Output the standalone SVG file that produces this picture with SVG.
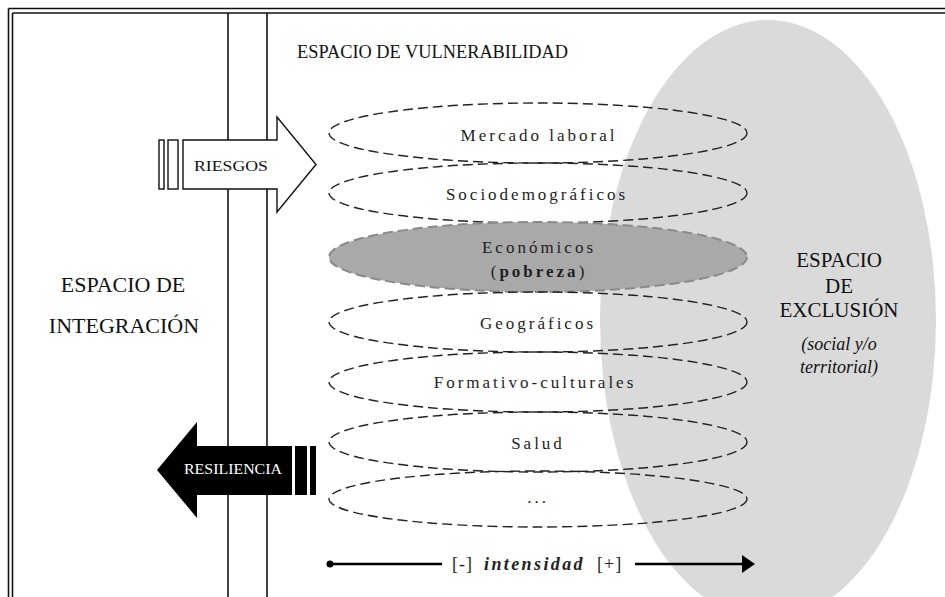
<svg xmlns="http://www.w3.org/2000/svg" width="945" height="597" viewBox="0 0 945 597">
<style>
  .frame{fill:none;stroke:#111;stroke-width:1.6}
  .dim{fill:none;stroke:#222;stroke-width:1.4;stroke-dasharray:10 5}
  .lbl{font-family:"Liberation Serif","Times New Roman",serif;font-size:17px;letter-spacing:3px;fill:#1e1e1e;text-anchor:middle}
  .big{font-family:"Liberation Serif","Times New Roman",serif;fill:#111;text-anchor:middle}
  .serif{font-family:"Liberation Serif","Times New Roman",serif}
</style>
<rect x="0" y="0" width="945" height="597" fill="#fff"/>
<g id="frame">
  <line x1="8.5" y1="8.5" x2="945" y2="8.5" class="frame"/>
  <line x1="8.5" y1="8.5" x2="8.5" y2="597" class="frame"/>
  <line x1="12.5" y1="13" x2="945" y2="13" class="frame"/>
</g>
<g id="integracion">
  <line x1="12.5" y1="13" x2="12.5" y2="597" class="frame"/>
  <line x1="228" y1="13" x2="228" y2="597" class="frame"/>
  <text class="big" font-size="22" x="123" y="292">ESPACIO DE</text>
  <text class="big" font-size="22" x="124" y="333">INTEGRACIÓN</text>
</g>
<g id="vulnerabilidad">
  <line x1="267" y1="13" x2="267" y2="597" class="frame"/>
  <text class="serif" font-size="18.5" fill="#111" x="297" y="58" textLength="271" lengthAdjust="spacingAndGlyphs">ESPACIO DE VULNERABILIDAD</text>
</g>
<g id="exclusion">
  <ellipse cx="768" cy="320" rx="168" ry="300" fill="#dadada"/>
  <text class="big" font-size="21" x="839" y="267">ESPACIO</text>
  <text class="big" font-size="21" x="839" y="293">DE</text>
  <text class="big" font-size="21" x="839" y="317">EXCLUSIÓN</text>
  <text class="big" font-size="18" font-style="italic" x="839" y="350">(social y/o</text>
  <text class="big" font-size="18" font-style="italic" x="839" y="373">territorial)</text>
</g>
<g id="mercado">
  <ellipse cx="538" cy="133" rx="209" ry="30" class="dim"/>
  <text class="lbl" x="539" y="141">Mercado laboral</text>
</g>
<g id="sociodemograficos">
  <ellipse cx="538" cy="193" rx="209" ry="30" class="dim"/>
  <text class="lbl" x="537" y="200">Sociodemográficos</text>
</g>
<g id="economicos">
  <ellipse cx="538" cy="257" rx="209" ry="35" fill="#a9a9a9" stroke="#8a8a8a" stroke-width="2" stroke-dasharray="10 5"/>
  <text class="lbl" x="539" y="253">Económicos</text>
  <text class="lbl" x="539" y="277">(<tspan font-weight="bold">pobreza</tspan>)</text>
</g>
<g id="geograficos">
  <ellipse cx="538" cy="322" rx="209" ry="30" class="dim"/>
  <text class="lbl" x="538" y="329">Geográficos</text>
</g>
<g id="formativo">
  <ellipse cx="538" cy="382" rx="209" ry="30" class="dim"/>
  <text class="lbl" x="535" y="388">Formativo-culturales</text>
</g>
<g id="salud">
  <ellipse cx="538" cy="442" rx="209" ry="30" class="dim"/>
  <text class="lbl" x="538" y="449">Salud</text>
</g>
<g id="otros">
  <ellipse cx="538" cy="499" rx="209" ry="28" class="dim"/>
  <text class="lbl" x="538" y="503">...</text>
</g>
<g id="riesgos">
  <rect x="159" y="140" width="5" height="49" fill="#fff" stroke="#111" stroke-width="1.4"/>
  <rect x="168" y="140" width="10" height="49" fill="#fff" stroke="#111" stroke-width="1.4"/>
  <polygon points="183,140 277,140 277,117 316,164.5 277,212 277,189 183,189" fill="#fff" stroke="#111" stroke-width="1.4"/>
  <text class="serif" font-size="15" fill="#111" x="194" y="171" textLength="74" lengthAdjust="spacingAndGlyphs">RIESGOS</text>
</g>
<g id="resiliencia">
  <polygon points="157,470 197,422 197,446 292,446 292,495 197,495 197,518" fill="#000"/>
  <rect x="295" y="446" width="12" height="49" fill="#000"/>
  <rect x="310" y="446" width="6" height="49" fill="#000"/>
  <text class="serif" font-size="15" fill="#fff" x="184" y="474" textLength="98" lengthAdjust="spacingAndGlyphs">RESILIENCIA</text>
</g>
<g id="connectors">
  <circle cx="330" cy="564" r="3.5" fill="#000"/>
  <line x1="330" y1="564" x2="442" y2="564" stroke="#000" stroke-width="2.5"/>
  <line x1="635" y1="564" x2="744" y2="564" stroke="#000" stroke-width="2.5"/>
  <polygon points="742,555 755,564 742,573" fill="#000"/>
</g>
<g id="intensidad">
  <text class="serif" font-size="18" fill="#222" y="570"><tspan x="452" letter-spacing="1">[-]</tspan><tspan x="484" font-weight="bold" font-style="italic" letter-spacing="2.4">intensidad</tspan><tspan x="597" letter-spacing="1">[+]</tspan></text>
</g>
</svg>
